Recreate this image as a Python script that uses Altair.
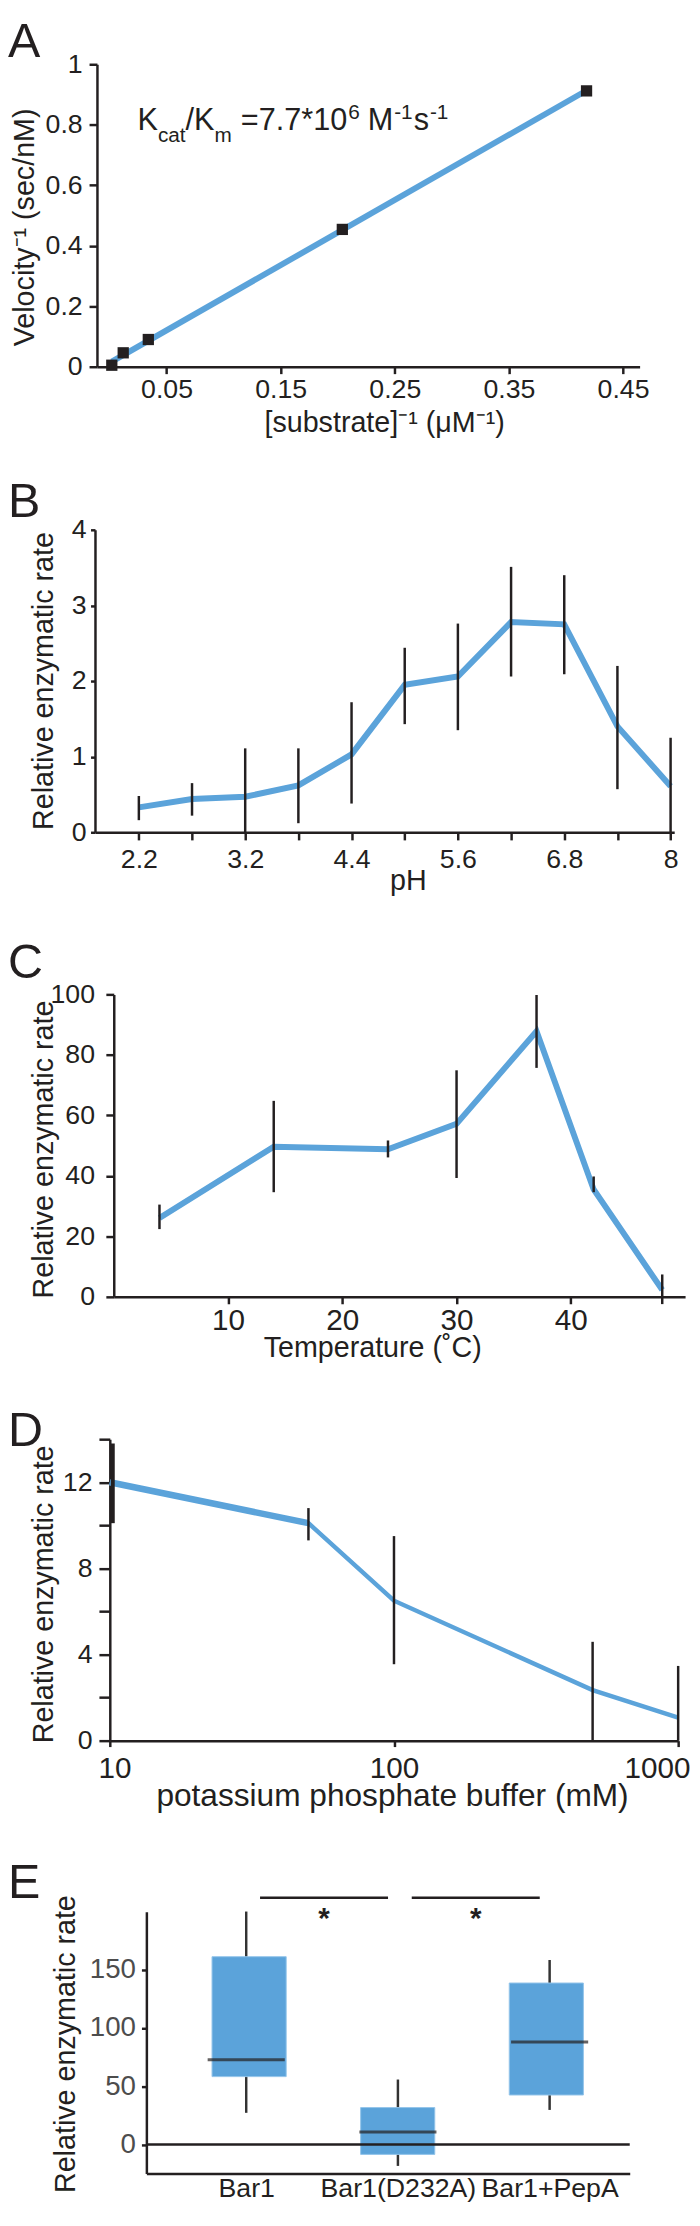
import json
import altair as alt
import pandas as pd

# ---------------- data ----------------
# A: double-reciprocal plot
inv_substrate = [0.002, 0.012, 0.034, 0.204, 0.418]
inv_velocity = [0.005, 0.046, 0.090, 0.454, 0.912]

# B: pH profile
ph_labels = ["2.2", "2.7", "3.2", "3.8", "4.4", "5.0", "5.6", "6.2", "6.8", "7.4", "8"]
ph_rate = [0.33, 0.44, 0.47, 0.62, 1.03, 1.95, 2.06, 2.78, 2.75, 1.40, 0.61]
ph_lo = [0.16, 0.22, 0.00, 0.12, 0.38, 1.43, 1.35, 2.06, 2.09, 0.57, 0.00]
ph_hi = [0.48, 0.65, 1.11, 1.11, 1.72, 2.44, 2.76, 3.51, 3.40, 2.20, 1.25]

# C: temperature profile
temp_c = [4, 14, 24, 30, 37, 42, 48]
temp_rate = [26.1, 49.6, 48.8, 57.2, 87.8, 35.5, 2.3]
temp_lo = [22.4, 34.6, 46.1, 39.3, 75.7, 34.6, -2.4]
temp_hi = [30.5, 64.8, 51.7, 74.9, 99.8, 39.8, 7.4]

# D: buffer concentration
buffer_mm = [10, 50, 100, 500, 1000]
buffer_rate = [12.0, 10.1, 6.5, 2.35, 1.07]
buffer_lo = [10.1, 9.3, 3.55, 0.0, 0.0]
buffer_hi = [13.8, 10.8, 9.5, 4.59, 3.47]

# E: box plots
variants = ["Bar1", "Bar1(D232A)", "Bar1+PepA"]
box_min = [27.2, -18.4, 29.7]
box_q1 = [58.3, -8.5, 42.5]
box_median = [72.7, 10.8, 88.0]
box_q3 = [161.3, 31.7, 138.7]
box_max = [200.1, 55.8, 158.5]
sig_from = ["Bar1", "Bar1(D232A)"]
sig_to = ["Bar1(D232A)", "Bar1+PepA"]
sig_height = [212, 212]
sig_label = ["*", "*"]

# ---------------- style / layout ----------------
FONT = "Liberation Sans"
INK = "#231f20"
BLUE = "#5ba3da"
V0 = 8                      # page offset of the single view
VIEW_W, VIEW_H = 692, 2210

# plot boxes in page pixels: (left, top, right, bottom)
PA = (98, 52, 647, 358)
PB = (96, 523, 682, 829)
PC = (115, 993, 693, 1299)
PD = (111, 1443, 686, 1748)
PE = (148, 1921, 637, 2186)

one = pd.DataFrame({"k": [0]})


def vx(p):
    return p - V0


def vy(p):
    return p - V0


def xr(P):
    return [vx(P[0]), vx(P[2])]


def yr(P):
    return [vy(P[3]), vy(P[1])]


def x_axis(P, **kw):
    return alt.Axis(orient="bottom", offset=vy(P[3]) - VIEW_H, title=None, **kw)


def y_axis(P, **kw):
    return alt.Axis(orient="left", offset=-vx(P[0]), title=None, **kw)


def text_at(txt, x, y, size, align="left", baseline="alphabetic", angle=0, **kw):
    return alt.Chart(one).mark_text(
        text=txt, font=FONT, fontSize=size, color=INK, align=align, baseline=baseline,
        angle=angle, **kw
    ).encode(x=alt.value(vx(x)), y=alt.value(vy(y)))


def letter(ch, base):
    return text_at(ch, V0, base, 49)


def vtitle(txt, cx, cy, size=29):
    return text_at(txt, cx, cy, size, align="center", baseline="middle", angle=270)


def htitle(txt, cx, base, size=29):
    return text_at(txt, cx, base, size, align="center")


layers = []

# ---------------- panel A ----------------
dfA = pd.DataFrame({"s": inv_substrate, "v": inv_velocity})
scXA = alt.Scale(domain=[-0.011, 0.4645], range=xr(PA), nice=False, zero=False)
scYA = alt.Scale(domain=[0, 1], range=yr(PA), nice=False, zero=False)
axXA = x_axis(PA, values=[0.05, 0.15, 0.25, 0.35, 0.45], format=".2~g", tickSize=7, labelPadding=3)
axYA = y_axis(PA, values=[0, 0.2, 0.4, 0.6, 0.8, 1], format=".2~g", tickSize=8, labelPadding=7)
layers.append(alt.Chart(dfA).transform_regression("s", "v").mark_line(color=BLUE, strokeWidth=6).encode(
    x=alt.X("s:Q", scale=scXA, axis=axXA), y=alt.Y("v:Q", scale=scYA, axis=axYA)))
layers.append(alt.Chart(dfA).mark_square(size=130, color=INK, opacity=1).encode(
    x=alt.X("s:Q", scale=scXA, axis=None), y=alt.Y("v:Q", scale=scYA, axis=None)))

W_EM = {"K": .667, "c": .5, "a": .556, "t": .278, "/": .278, "m": .833, "=": .584, "7": .556,
        ".": .278, "*": .389, "1": .556, "0": .556, "6": .556, "M": .833, "-": .333, "s": .5}
kcat_pieces = [("K", 0, 0), ("cat", 1, 0), ("/K", 0, 0), ("m", 1, 0), ("=7.7*10", 0, 9),
               ("6", 2, 1), ("M", 0, 8), ("-1", 2, 1), ("s", 0, 1), ("-1", 2, 1)]
sizes = {0: 31, 1: 21, 2: 21}
bases = {0: 118, 1: 131, 2: 107}
cx = 139
for txt, kind, gap in kcat_pieces:
    cx += gap
    layers.append(text_at(txt, cx, bases[kind], sizes[kind]))
    cx += sum(W_EM[c] for c in txt) * sizes[kind]
layers += [letter("A", 45),
           vtitle("Velocity⁻¹ (sec/nM)", 25, 217),
           htitle("[substrate]⁻¹ (μM⁻¹)", 389, 424)]

# ---------------- panel B ----------------
dfB = pd.DataFrame({"i": list(range(len(ph_labels))), "rate": ph_rate, "lo": ph_lo, "hi": ph_hi})
lab_js = json.dumps(ph_labels)
scXB = alt.Scale(domain=[-0.825, 10.068], range=xr(PB), nice=False, zero=False)
scYB = alt.Scale(domain=[0, 4], range=yr(PB), nice=False, zero=False)
axXB = x_axis(PB, values=list(range(len(ph_labels))), tickSize=7.7, labelPadding=6.6,
              labelExpr=f"datum.value % 2 == 0 ? {lab_js}[datum.value] : ''")
axYB = y_axis(PB, values=[0, 1, 2, 3, 4], format="d", tickSize=4.5, labelPadding=4.5)
layers.append(alt.Chart(dfB).mark_line(color=BLUE, strokeWidth=6).encode(
    x=alt.X("i:Q", scale=scXB, axis=axXB), y=alt.Y("rate:Q", scale=scYB, axis=axYB)))
layers.append(alt.Chart(dfB).mark_rule(color=INK, strokeWidth=2.5).encode(
    x=alt.X("i:Q", scale=scXB, axis=None), y=alt.Y("lo:Q", scale=scYB, axis=None), y2="hi:Q"))
layers += [letter("B", 510),
           vtitle("Relative enzymatic rate", 45, 676),
           htitle("pH", 413, 887)]

# ---------------- panel C ----------------
dfC = pd.DataFrame({"t": temp_c, "rate": temp_rate, "lo": temp_lo, "hi": temp_hi})
scXC = alt.Scale(domain=[0, 50], range=xr(PC), nice=False, zero=False)
scYC = alt.Scale(domain=[0, 100], range=yr(PC), nice=False, zero=False)
axXC = x_axis(PC, values=[10, 20, 30, 40], tickSize=7, labelPadding=2, labelFontSize=30)
axYC = y_axis(PC, values=[0, 20, 40, 60, 80, 100], format="d", tickSize=8, labelPadding=11.5)
layers.append(alt.Chart(dfC).mark_line(color=BLUE, strokeWidth=6).encode(
    x=alt.X("t:Q", scale=scXC, axis=axXC), y=alt.Y("rate:Q", scale=scYC, axis=axYC)))
layers.append(alt.Chart(dfC).mark_rule(color=INK, strokeWidth=2.5).encode(
    x=alt.X("t:Q", scale=scXC, axis=None), y=alt.Y("lo:Q", scale=scYC, axis=None), y2="hi:Q"))
layers += [letter("C", 976),
           vtitle("Relative enzymatic rate", 45, 1150),
           htitle("Temperature (˚C)", 377, 1360)]

# ---------------- panel D ----------------
dfD = pd.DataFrame({"mm": buffer_mm, "rate": buffer_rate, "lo": buffer_lo, "hi": buffer_hi})
scXD = alt.Scale(type="log", domain=[10, 1000], range=xr(PD), nice=False)
scYD = alt.Scale(domain=[0, 14], range=yr(PD), nice=False, zero=False)
axXD = x_axis(PD, values=[10, 100, 1000], format="d", tickSize=6, labelPadding=7,
              labelFontSize=30, labelFlush=True, labelFlushOffset=12)
axYD = y_axis(PD, values=list(range(0, 15, 2)), tickSize=11, labelPadding=7,
              labelExpr="datum.value % 4 == 0 ? datum.label : ''")
layers.append(alt.Chart(dfD).mark_line(color=BLUE, strokeWidth=4.5).encode(
    x=alt.X("mm:Q", scale=scXD, axis=axXD), y=alt.Y("rate:Q", scale=scYD, axis=axYD)))
layers.append(alt.Chart(dfD).transform_filter("datum.mm <= 50").mark_line(color=BLUE, strokeWidth=6.5).encode(
    x=alt.X("mm:Q", scale=scXD, axis=None), y=alt.Y("rate:Q", scale=scYD, axis=None)))
layers.append(alt.Chart(dfD).transform_filter("datum.mm > 10").mark_rule(color=INK, strokeWidth=2.5).encode(
    x=alt.X("mm:Q", scale=scXD, axis=None), y=alt.Y("lo:Q", scale=scYD, axis=None), y2="hi:Q"))
# the bar at the first concentration sits on the axis and is drawn heavier, as in the original
layers.append(alt.Chart(dfD).transform_filter("datum.mm <= 10").mark_rule(
    color=INK, strokeWidth=4, xOffset=3).encode(
    x=alt.X("mm:Q", scale=scXD, axis=None), y=alt.Y("lo:Q", scale=scYD, axis=None), y2="hi:Q"))
layers += [letter("D", 1450),
           vtitle("Relative enzymatic rate", 45, 1600),
           htitle("potassium phosphate buffer (mM)", 397, 1814, size=32)]

# ---------------- panel E ----------------
dfE = pd.DataFrame({"pos": list(range(len(variants))), "variant": variants, "lo": box_min,
                    "q1": box_q1, "med": box_median, "q3": box_q3, "hi": box_max})
dfSig = pd.DataFrame({"a": [variants.index(v) for v in sig_from],
                      "b": [variants.index(v) for v in sig_to],
                      "y": sig_height, "label": sig_label})
dfSig["mid"] = (dfSig["a"] + dfSig["b"]) / 2
var_js = json.dumps(variants)
scXE = alt.Scale(domain=[-0.658, 2.528], range=xr(PE), nice=False, zero=False)
scYE = alt.Scale(domain=[-25, 200], range=yr(PE), nice=False, zero=False)
axXE = x_axis(PE, values=list(range(len(variants))), ticks=False, tickSize=0, labelPadding=2,
              labelFontSize=27, labelExpr=f"{var_js}[datum.value]")
axYE = y_axis(PE, values=[0, 50, 100, 150], format="d", tickSize=5, labelPadding=6,
              labelFontSize=28, labelColor="#4d4d4d")
layers.append(alt.Chart(dfE).mark_rule(color="#333333", strokeWidth=2.5).encode(
    x=alt.X("pos:Q", scale=scXE, axis=axXE), y=alt.Y("lo:Q", scale=scYE, axis=axYE), y2="hi:Q"))
layers.append(alt.Chart(dfE).mark_bar(size=75, color=BLUE, stroke="#93c4ea", strokeWidth=1).encode(
    x=alt.X("pos:Q", scale=scXE, axis=None), y=alt.Y("q1:Q", scale=scYE, axis=None), y2="q3:Q"))
layers.append(alt.Chart(dfE).mark_tick(orient="horizontal", size=78, thickness=3, color=INK).encode(
    x=alt.X("pos:Q", scale=scXE, axis=None), y=alt.Y("med:Q", scale=scYE, axis=None)))
layers.append(alt.Chart(one).mark_rule(color=INK, strokeWidth=2.5).encode(
    x=alt.value(vx(PE[0])), x2=alt.value(vx(PE[2])), y=alt.YDatum(0, scale=scYE, axis=None)))
layers.append(alt.Chart(dfSig).mark_rule(color=INK, strokeWidth=2.5, xOffset=14, x2Offset=-10).encode(
    x=alt.X("a:Q", scale=scXE, axis=None), x2="b:Q", y=alt.Y("y:Q", scale=scYE, axis=None)))
layers.append(alt.Chart(dfSig).mark_text(font=FONT, fontSize=30, fontWeight="bold", color=INK,
                                         dx=2, dy=31, baseline="alphabetic").encode(
    x=alt.X("mid:Q", scale=scXE, axis=None), y=alt.Y("y:Q", scale=scYE, axis=None), text="label:N"))
layers += [letter("E", 1907),
           vtitle("Relative enzymatic rate", 67, 2055)]

chart = alt.layer(*layers).resolve_scale(x="independent", y="independent").resolve_axis(
    x="independent", y="independent").properties(
    width=VIEW_W, height=VIEW_H, padding=0, background="white",
    autosize=alt.AutoSizeParams(type="none")).configure_view(stroke=None).configure_axis(
    grid=False, domainColor=INK, domainWidth=2.5, tickColor=INK, tickWidth=2.5,
    labelFont=FONT, labelFontSize=27, labelColor=INK, labelOverlap=False, labelFlush=False,
    labelBound=False)

chart.save("out.html", embed_options={"renderer": "svg", "actions": False})
